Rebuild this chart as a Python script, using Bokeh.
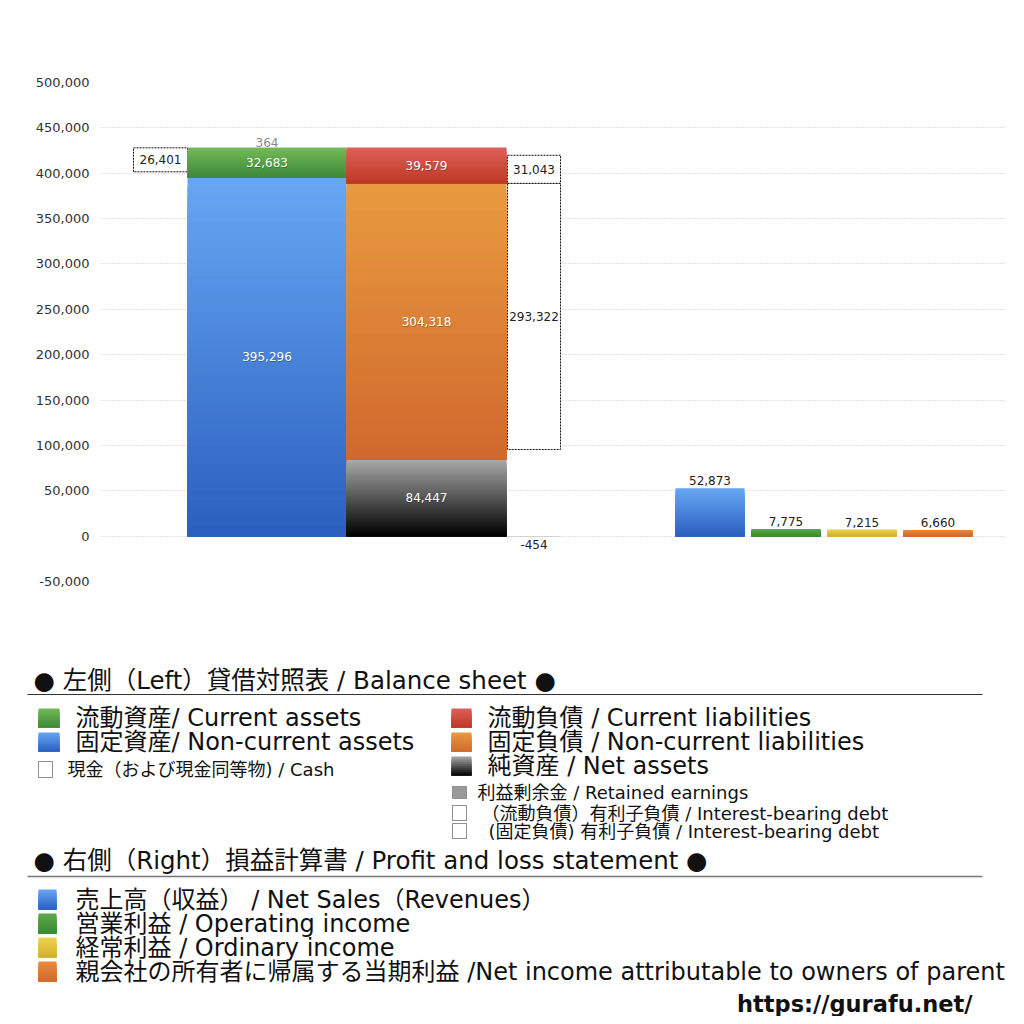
from bokeh.plotting import figure
from bokeh.models import Range1d, FixedTicker, NumeralTickFormatter
from bokeh.core.properties import value
from bokeh.embed import file_html
from bokeh.resources import INLINE

# ---------------- data ----------------
asset_names = ["固定資産", "流動資産", "その他"]
asset_values = [395296, 32683, 364]            # stacked bottom -> top
liability_names = ["純資産", "固定負債", "流動負債"]
liability_values = [84447, 304318, 39579]      # stacked bottom -> top
cash_value = 26401
ibd_names = ["流動負債 有利子負債", "固定負債 有利子負債"]
ibd_values = [31043, 293322]
retained_earnings = -454
pl_names = ["売上高", "営業利益", "経常利益", "当期利益"]
pl_values = [52873, 7775, 7215, 6660]
y_ticks = [-50000, 0, 50000, 100000, 150000, 200000, 250000, 300000, 350000, 400000, 450000, 500000]

# ---------------- styles ----------------
GRAD = {
    "green": ("#74b955", "#3b8a39"),
    "blue": ("#67a7f3", "#2a5fbf"),
    "red": ("#dc6159", "#bf3824"),
    "orange": ("#e99b40", "#d0682d"),
    "black": ("#a9a9a9", "#000000"),
    "pgreen": ("#5eaa4a", "#3a8936"),
    "yellow": ("#ecd54c", "#d3ad30"),
    "porange": ("#e98c3b", "#d0692d"),
}
FONT_NUM = value("DejaVu Sans")
FONT_JP = value("DejaVu Sans, Noto Sans CJK JP")


def blend(c0, c1, t):
    a = [int(c0[i:i + 2], 16) for i in (1, 3, 5)]
    b = [int(c1[i:i + 2], 16) for i in (1, 3, 5)]
    return "#%02x%02x%02x" % tuple(round(a[k] + (b[k] - a[k]) * t) for k in range(3))


def gradient(fig, left, right, y_top, y_bottom, colors, n=40):
    """Vertical colour gradient: each band runs from its own top down to the
    bar's bottom and is painted over by the next one, so no seams appear."""
    c_top, c_bot = colors
    h = (y_bottom - y_top) / n
    L, R, T, B, C = [], [], [], [], []
    for i in range(n):
        L.append(left)
        R.append(right)
        T.append(y_top + h * i)
        B.append(y_bottom)
        C.append(blend(c_top, c_bot, (i + 0.5) / n))
    fig.quad(left=L, right=R, top=T, bottom=B, fill_color=C, line_color=None)


# ---------------- main chart ----------------
p = figure(width=1010, height=650, x_range=Range1d(100, 1006), y_range=Range1d(-50000, 500000),
           output_backend="svg", toolbar_location=None, x_axis_location=None,
           min_border_left=100, min_border_right=4, min_border_top=82, min_border_bottom=69)
p.outline_line_color = None
p.background_fill_color = "white"
p.xgrid.visible = False
p.ygrid.ticker = FixedTicker(ticks=y_ticks)
p.ygrid.grid_line_color = "#c4c4c4"
p.ygrid.grid_line_dash = "1 2"
p.yaxis.ticker = FixedTicker(ticks=y_ticks)
p.yaxis.formatter = NumeralTickFormatter(format="0,0")
p.yaxis.axis_line_color = None
p.yaxis.major_tick_line_color = None
p.yaxis.minor_tick_line_color = None
p.yaxis.major_label_text_font = "DejaVu Sans"
p.yaxis.major_label_text_font_size = "13px"
p.yaxis.major_label_text_color = "#333333"
p.yaxis.major_label_standoff = 5

ASSET_X = (187, 346)
LIAB_X = (346, 506)
CASH_X = (133, 187)
DEBT_X = (507, 560)
PL_CENTERS = [709.5, 785.5, 861.5, 937.5]
PL_HALF = 34.5

# cash box (aligned to the top of current assets), drawn behind the bars
a_bottom = [0, asset_values[0], asset_values[0] + asset_values[1]]
a_top = [a_bottom[i] + asset_values[i] for i in range(3)]
cash_top = a_top[1]
cash_bottom = cash_top - cash_value
p.quad(left=[CASH_X[0]], right=[CASH_X[1]], top=[cash_top], bottom=[cash_bottom],
       fill_color="white", line_color="#111111", line_dash="2 1", line_width=1)

# assets column
gradient(p, ASSET_X[0], ASSET_X[1], a_top[0], a_bottom[0], GRAD["blue"])
gradient(p, ASSET_X[0], ASSET_X[1], a_top[1], a_bottom[1], GRAD["green"], n=16)
p.quad(left=[ASSET_X[0]], right=[ASSET_X[1]], top=[a_top[2]], bottom=[a_bottom[2]],
       fill_color="#9a9a9a", line_color=None)

# liabilities column
l_bottom = [0, liability_values[0], liability_values[0] + liability_values[1]]
l_top = [l_bottom[i] + liability_values[i] for i in range(3)]
gradient(p, LIAB_X[0], LIAB_X[1], l_top[0], l_bottom[0], GRAD["black"])
gradient(p, LIAB_X[0], LIAB_X[1], l_top[1], l_bottom[1], GRAD["orange"])
gradient(p, LIAB_X[0], LIAB_X[1], l_top[2], l_bottom[2], GRAD["red"], n=16)

# interest-bearing debt boxes
d1_bottom = l_bottom[2]
d1_top = d1_bottom + ibd_values[0]
d2_top = l_bottom[2]
d2_bottom = d2_top - ibd_values[1]
p.quad(left=[DEBT_X[0], DEBT_X[0]], right=[DEBT_X[1], DEBT_X[1]], top=[d1_top, d2_top],
       bottom=[d1_bottom, d2_bottom], fill_color="white", line_color="#111111",
       line_dash="2 1", line_width=1)

# retained earnings (tiny negative bar)
p.quad(left=[DEBT_X[0]], right=[DEBT_X[1]], top=[0], bottom=[retained_earnings],
       fill_color="#888888", line_color=None)

# P/L bars
pl_keys = ["blue", "pgreen", "yellow", "porange"]
for cx, v, k in zip(PL_CENTERS, pl_values, pl_keys):
    gradient(p, cx - PL_HALF, cx + PL_HALF, v, 0, GRAD[k], n=24)

# labels inside bars
fmt = lambda v: f"{v:,}"
in_x = [(ASSET_X[0] + ASSET_X[1]) / 2] * 2 + [(LIAB_X[0] + LIAB_X[1]) / 2] * 3
in_y = [(a_top[0] + a_bottom[0]) / 2, (a_top[1] + a_bottom[1]) / 2,
        (l_top[0] + l_bottom[0]) / 2, (l_top[1] + l_bottom[1]) / 2, (l_top[2] + l_bottom[2]) / 2]
in_t = [fmt(asset_values[0]), fmt(asset_values[1]),
        fmt(liability_values[0]), fmt(liability_values[1]), fmt(liability_values[2])]
p.text(x=[x + 0.6 for x in in_x], y=in_y, text=in_t, text_align="center", text_baseline="middle",
       text_font=FONT_NUM, text_font_size="12px", text_color="#000000", text_alpha=0.25, y_offset=0.8)
p.text(x=in_x, y=in_y, text=in_t, text_align="center", text_baseline="middle",
       text_font=FONT_NUM, text_font_size="12px", text_color="#ffffff")

# 364 label above the asset column
p.text(x=[(ASSET_X[0] + ASSET_X[1]) / 2], y=[a_top[2]], text=[fmt(asset_values[2])],
       text_align="center", text_baseline="bottom", y_offset=-1,
       text_font=FONT_NUM, text_font_size="12px", text_color="#8a8a8a")

# box labels
p.text(x=[(CASH_X[0] + CASH_X[1]) / 2, (DEBT_X[0] + DEBT_X[1]) / 2, (DEBT_X[0] + DEBT_X[1]) / 2],
       y=[(cash_top + cash_bottom) / 2, (d1_top + d1_bottom) / 2, (d2_top + d2_bottom) / 2],
       text=[fmt(cash_value), fmt(ibd_values[0]), fmt(ibd_values[1])],
       text_align="center", text_baseline="middle",
       text_font=FONT_NUM, text_font_size="12px", text_color="#222222")

# retained earnings label
p.text(x=[(DEBT_X[0] + DEBT_X[1]) / 2], y=[retained_earnings], text=[fmt(retained_earnings)],
       text_align="center", text_baseline="top", y_offset=3,
       text_font=FONT_NUM, text_font_size="12px", text_color="#222222")

# P/L labels
p.text(x=PL_CENTERS, y=pl_values, text=[fmt(v) for v in pl_values],
       text_align="center", text_baseline="bottom", y_offset=-3,
       text_font=FONT_NUM, text_font_size="12px", text_color="#222222")

# ---------------- legend panel ----------------
leg = figure(width=1010, height=366, x_range=Range1d(0, 1010), y_range=Range1d(1016, 650),
             output_backend="svg", toolbar_location=None, x_axis_location=None,
             y_axis_location=None, min_border=0)
leg.outline_line_color = None
leg.xgrid.visible = False
leg.ygrid.visible = False


def ltext(x, y, s, size, color="#111111", style="normal", font=FONT_JP, align="left"):
    leg.text(x=[x], y=[y], text=[s], text_align=align, text_baseline="middle",
             text_font=font, text_font_size=size, text_color=color, text_font_style=style)


BIG = "24px"
SMALL = "18px"

ltext(33, 680, "● 左側（Left）貸借対照表 / Balance sheet ●", "24.5px")
leg.segment(x0=[27], y0=[694], x1=[982], y1=[694], line_color="#333333", line_width=1)

gradient(leg, 38, 59, 708, 727, GRAD["green"], n=10)
gradient(leg, 38, 59, 732, 751, GRAD["blue"], n=10)
ltext(75, 717, "流動資産/ Current assets", BIG)
ltext(75, 741, "固定資産/ Non-current assets", BIG)
leg.quad(left=[38], right=[52], top=[761], bottom=[777], fill_color="white",
         line_color="#222222", line_dash="1 1", line_width=1)
ltext(67, 769, "現金（および現金同等物) / Cash", SMALL)

gradient(leg, 451, 471, 708, 727, GRAD["red"], n=10)
gradient(leg, 451, 471, 732, 751, GRAD["orange"], n=10)
gradient(leg, 451, 471, 756, 775, GRAD["black"], n=10)
ltext(487, 717, "流動負債 /  Current liabilities", BIG)
ltext(487, 741, "固定負債 / Non-current liabilities", BIG)
ltext(487, 765, "純資産 / Net assets", BIG)
leg.quad(left=[452], right=[466], top=[786], bottom=[798], fill_color="#999999",
         line_color="#555555", line_dash="1 1", line_width=1)
ltext(477, 792, "利益剰余金 / Retained earnings", SMALL)
leg.quad(left=[452, 452], right=[466, 466], top=[805, 823], bottom=[820, 838], fill_color="white",
         line_color="#222222", line_dash="1 1", line_width=1)
ltext(481, 813, "（流動負債）有利子負債 / Interest-bearing debt", SMALL)
ltext(488, 831, "(固定負債) 有利子負債 / Interest-bearing debt", SMALL)

ltext(33, 860, "● 右側（Right）損益計算書 / Profit and loss statement ●", "24.5px")
leg.segment(x0=[27], y0=[876], x1=[982], y1=[876], line_color="#777777", line_width=1.5)

pl_leg = ["売上高（収益） / Net Sales（Revenues）", "営業利益 / Operating income",
          "経常利益 / Ordinary income",
          "親会社の所有者に帰属する当期利益 /Net income attributable to owners of parent"]
for i, (s, k) in enumerate(zip(pl_leg, pl_keys)):
    yc = 899 + 24 * i
    gradient(leg, 38, 56, yc - 10, yc + 10, GRAD[k], n=10)
    ltext(75, yc, s, BIG)

ltext(972, 1003, "https://gurafu.net/", "22.5px", style="bold", font=FONT_NUM, align="right")

open("out.html", "w").write(file_html([p, leg], INLINE))
